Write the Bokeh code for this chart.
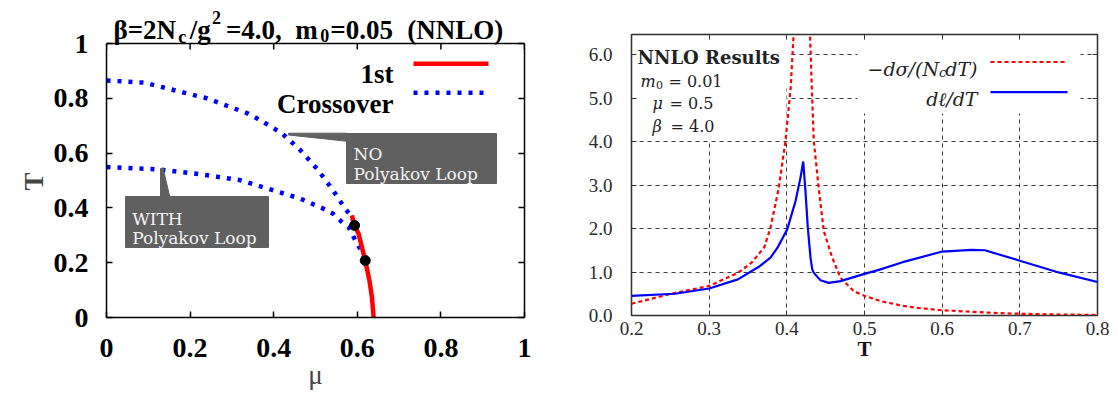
import math
from bokeh.plotting import figure
from bokeh.models import Label, FixedTicker, LinearAxis, Range1d, Title
from bokeh.layouts import row
from bokeh.embed import file_html
from bokeh.resources import INLINE

# ---------------- left panel data (phase diagram) ----------------
mu_no = [0.0, 0.091, 0.174, 0.240, 0.339, 0.368, 0.420, 0.4635, 0.503, 0.539, 0.571, 0.587, 0.5935]
T_no = [0.865, 0.857, 0.825, 0.800, 0.744, 0.720, 0.672, 0.611, 0.544, 0.471, 0.397, 0.367, 0.336]
mu_with = [0.0, 0.128, 0.224, 0.320, 0.400, 0.4635, 0.515, 0.542, 0.5634, 0.579, 0.5976, 0.611, 0.619]
T_with = [0.549, 0.540, 0.523, 0.501, 0.464, 0.434, 0.400, 0.379, 0.348, 0.330, 0.275, 0.239, 0.208]
mu_first = [0.587, 0.5935, 0.603, 0.611, 0.619, 0.629, 0.635, 0.639]
T_first = [0.373, 0.336, 0.306, 0.257, 0.208, 0.135, 0.074, 0.0]
mu_cp = [0.5935, 0.619]
T_cp = [0.336, 0.208]
left_ticks = [0, 0.2, 0.4, 0.6, 0.8, 1]
left_tick_labels = ["0", "0.2", "0.4", "0.6", "0.8", "1"]

# ---------------- right panel data (susceptibilities) ----------------
T_sigma = [0.20, 0.256, 0.30, 0.337, 0.355, 0.371, 0.379, 0.3897, 0.3983, 0.405, 0.4087,
           0.414, 0.419, 0.424, 0.4298, 0.4321, 0.4347, 0.4412, 0.4476, 0.4584, 0.4691,
           0.4862, 0.5004, 0.5206, 0.55, 0.571, 0.60, 0.661, 0.70, 0.75, 0.80]
dsigma = [0.27, 0.52, 0.68, 0.98, 1.22, 1.57, 2.02, 2.94, 4.02, 5.25, 6.45,
          9.0, 14.0, 9.0, 6.48, 5.25, 4.02, 2.90, 1.94, 1.33, 0.87,
          0.56, 0.45, 0.33, 0.22, 0.17, 0.12, 0.064, 0.040, 0.023, 0.013]
T_ell = [0.20, 0.256, 0.30, 0.337, 0.364, 0.379, 0.388, 0.4005, 0.4112, 0.4176, 0.4211,
         0.424, 0.427, 0.4305, 0.4327, 0.4347, 0.4433, 0.454, 0.4691, 0.499, 0.5206,
         0.548, 0.60, 0.638, 0.655, 0.70, 0.75, 0.80]
dell = [0.45, 0.50, 0.62, 0.83, 1.12, 1.33, 1.56, 1.98, 2.63, 3.17, 3.54,
        2.86, 2.02, 1.33, 1.06, 0.98, 0.81, 0.75, 0.79, 0.95, 1.06,
        1.22, 1.47, 1.51, 1.50, 1.26, 0.99, 0.77]
right_xticks = [0.2, 0.3, 0.4, 0.5, 0.6, 0.7, 0.8]
right_xtick_labels = ["0.2", "0.3", "0.4", "0.5", "0.6", "0.7", "0.8"]
right_yticks = [0, 1, 2, 3, 4, 5, 6]
right_ytick_labels = ["0.0", "1.0", "2.0", "3.0", "4.0", "5.0", "6.0"]

SERIF = "Liberation Serif"
CM = "DejaVu Serif"

# ---------------- layout constants (page pixels; Bokeh page has no margin) ----------------
W1, W2, H = 575, 543, 396
P2X = W1
# visible left box: x 106..524, y 43..317 ; frame extends to the top of the canvas (title inside)
f1 = (106, 524, 43, 317)
f2 = (P2X + 56, P2X + W2 - 21, 34, 315)
Y1MAX = f1[3] / (f1[3] - f1[2])
Y2MAX = 6.46


def lx(px):
    return (px - f1[0]) / (f1[1] - f1[0])


def ly(py):
    return (f1[3] - py) / (f1[3] - f1[2])


def rx(px):
    return 0.2 + (px - f2[0]) * 0.6 / (f2[1] - f2[0])


def ry(py):
    return (f2[3] - py) * Y2MAX / (f2[3] - f2[2])


def style_axis(ax, ticks, labels, show, font=SERIF, size="28px", style="bold",
               color="black", standoff=10, tick_in=6, width=1.5):
    ax.ticker = FixedTicker(ticks=ticks)
    ax.major_tick_in = tick_in
    ax.major_tick_out = 0
    ax.minor_tick_line_color = None
    ax.major_tick_line_color = color
    ax.major_tick_line_width = width
    ax.axis_line_color = color
    ax.axis_line_width = width
    if show:
        ax.major_label_overrides = {t: l for t, l in zip(ticks, labels)}
        ax.major_label_text_font = font
        ax.major_label_text_font_size = size
        ax.major_label_text_font_style = style
        ax.major_label_text_color = "black" if color == "black" else "#2a2a2a"
        ax.major_label_standoff = standoff
    else:
        ax.major_label_text_color = None
        ax.major_label_text_font_size = "1px"
        ax.major_label_standoff = 0


def lab(p, fx, fy, px, py, text, font=SERIF, size=27, style="normal", color="black",
        align="left", baseline="alphabetic", angle=0):
    p.add_layout(Label(x=fx(px), y=fy(py), text=text, text_font=font,
                       text_font_size=f"{size}px", text_font_style=style,
                       text_color=color, text_align=align, text_baseline=baseline,
                       angle=angle))


# ======================= LEFT FIGURE =======================
p1 = figure(width=W1, height=H, output_backend="svg", toolbar_location=None,
            x_range=Range1d(0, 1), y_range=Range1d(0, Y1MAX),
            min_border_left=f1[0], min_border_right=W1 - f1[1], min_border_top=0,
            min_border_bottom=H - f1[3])
p1.frame_align = False
p1.grid.visible = False
p1.outline_line_color = None
p1.background_fill_color = "white"
p1.border_fill_color = "white"

xax = p1.xaxis[0]
style_axis(xax, left_ticks, left_tick_labels, True, standoff=21)
xax.axis_label = "μ"
xax.axis_label_text_font = SERIF
xax.axis_label_text_font_size = "27px"
xax.axis_label_text_font_style = "normal"
xax.axis_label_standoff = 0

yax = p1.yaxis[0]
style_axis(yax, left_ticks, left_tick_labels, True, standoff=18)
yax.bounds = (0, 1)

# y-axis title, placed along the 0..1 box
tT = Title(text="T", align="left", offset=f1[3] - 190, vertical_align="top",
           text_font=SERIF, text_font_size="27px", text_font_style="bold", standoff=0)
p1.add_layout(tT, "left")

ax_right = LinearAxis(bounds=(0, 1))
p1.add_layout(ax_right, "right")
style_axis(ax_right, left_ticks, left_tick_labels, False)

# top edge of the box and its inward ticks
p1.line([left_ticks[0], left_ticks[-1]], [1, 1], line_color="black", line_width=1.5)
p1.segment(x0=left_ticks, y0=[1] * len(left_ticks), x1=left_ticks,
           y1=[1 - 6 / (f1[3] - f1[2])] * len(left_ticks), line_color="black", line_width=1.5)

p1.line(mu_no, T_no, line_color="#0000ff", line_width=4.5, line_dash="4 7", line_cap="butt")
p1.line(mu_with, T_with, line_color="#0000ff", line_width=4.5, line_dash="4 7", line_cap="butt")
p1.line(mu_first, T_first, line_color="#ff0000", line_width=4.5)
p1.scatter(mu_cp, T_cp, size=10, color="black")

# callouts
GRAY = "#606060"
p1.quad(left=[lx(346)], right=[lx(496)], top=[ly(133)], bottom=[ly(183)], color=GRAY)
p1.patch([lx(288), lx(346), lx(346), lx(288)], [ly(132.7), ly(132.7), ly(140.7), ly(134.5)], color=GRAY)
p1.quad(left=[lx(125)], right=[lx(268)], top=[ly(196)], bottom=[ly(247)], color=GRAY)
p1.patch([lx(160), lx(162.7), lx(169.3), lx(160)], [ly(168), ly(168), ly(196.5), ly(196.5)], color=GRAY)

WHITE = "#f4f4f4"
lab(p1, lx, ly, 353, 153.3, "NO", font=CM, size=17, color=WHITE)
lab(p1, lx, ly, 353, 173.3, "Polyakov Loop", font=CM, size=17, color=WHITE)
lab(p1, lx, ly, 131.7, 218.3, "WITH", font=CM, size=17, color=WHITE)
lab(p1, lx, ly, 131.7, 237.7, "Polyakov Loop", font=CM, size=17, color=WHITE)

# legend (label left, sample right)
lab(p1, lx, ly, 393, 73.3, "1st", size=27, style="bold", align="right")
lab(p1, lx, ly, 393, 103.3, "Crossover", size=27, style="bold", align="right")
p1.line([lx(413), lx(488)], [ly(63.3), ly(63.3)], line_color="#ff0000", line_width=4.5)
p1.line([lx(413), lx(488)], [ly(92.3), ly(92.3)], line_color="#0000ff", line_width=4.5,
        line_dash="4 7", line_cap="butt")

# title built from pieces (sub/superscripts)
TB = {' ': 0.25, '(': 0.333, ')': 0.333, ',': 0.25, '.': 0.25, '/': 0.278, '=': 0.57,
      'L': 0.667, 'N': 0.722, 'O': 0.778, 'c': 0.444, 'g': 0.5, 'm': 0.833, 'β': 0.56}
pieces = [("β=2N", 27, 0, 0), ("c", 18, 7, 0), ("/g", 27, 0, 0), ("2", 18, -12, 0),
          ("=4.0,", 27, 0, 0), ("m", 27, 0, 1), ("0", 18, 6, 0), ("=0.05", 27, 0, 0),
          ("(NNLO)", 27, 0, 1)]
nudge = {"c": -5.5, "/g": -3.0, "2": -4.0}


def twidth(s, size):
    return sum(TB.get(ch, 0.5) for ch in s) * size


natural = sum(twidth(t, s) + sp * 0.25 * 27 for t, s, d, sp in pieces)
k = 400.0 / natural
xpos = 113.0
for i, (t, s, d, sp) in enumerate(pieces):
    xpos += sp * 0.25 * 27 * k
    lab(p1, lx, ly, xpos + nudge.get(t, 0.0), 29 + d, t, size=s, style="bold")
    xpos += twidth(t, s) * k

# ======================= RIGHT FIGURE =======================
p2 = figure(width=W2, height=H, output_backend="svg", toolbar_location=None,
            x_range=Range1d(0.2, 0.8), y_range=Range1d(0, Y2MAX),
            min_border_left=f2[0] - P2X, min_border_right=P2X + W2 - f2[1],
            min_border_top=f2[2], min_border_bottom=H - f2[3])
p2.frame_align = False
p2.outline_line_color = "#222222"
p2.outline_line_width = 1.5
p2.background_fill_color = "white"
p2.border_fill_color = "white"
x2 = p2.xaxis[0]
style_axis(x2, right_xticks, right_xtick_labels, True, size="19px", style="normal",
           color="#333333", standoff=6, tick_in=5, width=1)
x2.axis_label = "T"
x2.axis_label_text_font = SERIF
x2.axis_label_text_font_size = "21px"
x2.axis_label_text_font_style = "bold"
x2.axis_label_text_color = "#111111"
x2.axis_label_standoff = -1
style_axis(p2.yaxis[0], right_yticks, right_ytick_labels, True, size="19px", style="normal",
           color="#333333", standoff=19, tick_in=5, width=1)
ax2_top = LinearAxis()
ax2_right = LinearAxis()
p2.add_layout(ax2_top, "above")
p2.add_layout(ax2_right, "right")
style_axis(ax2_top, right_xticks, right_xtick_labels, False, color="#333333", tick_in=5, width=1)
style_axis(ax2_right, right_yticks, right_ytick_labels, False, color="#333333", tick_in=5, width=1)
p2.xgrid.ticker = FixedTicker(ticks=right_xticks)
p2.ygrid.ticker = FixedTicker(ticks=right_yticks)
p2.grid.grid_line_color = "#3a3a3a"
p2.grid.grid_line_width = 1
p2.grid.grid_line_dash = "4 4"

# white key boxes (hide grid)
p2.quad(left=[rx(635), rx(635), rx(857)], right=[rx(790), rx(786), rx(1080)],
        top=[ry(39), ry(88), ry(39)], bottom=[ry(88), ry(139), ry(113)],
        color="white", line_color=None)

p2.line(T_sigma, dsigma, line_color="#ff0000", line_width=2.2, line_dash="4 3")
p2.line(T_ell, dell, line_color="#0000ff", line_width=2.2)

# legend
lab(p2, rx, ry, 977, 98, "dℓ/dT", font=CM, size=19, style="italic", color="#222222", align="right")
w_tail = 31.2
lab(p2, rx, ry, 977, 68, "dT)", font=CM, size=19, style="italic", color="#222222", align="right")
lab(p2, rx, ry, 977 - w_tail, 72, "c", font=CM, size=13, style="italic", color="#222222", align="right")
lab(p2, rx, ry, 977 - w_tail - 7.3, 68, "−dσ/(N", font=CM, size=19, style="italic",
    color="#222222", align="right")
p2.line([rx(990), rx(1067)], [ry(61.5), ry(61.5)], line_color="#ff0000", line_width=2.2, line_dash="4 3")
p2.line([rx(990), rx(1067)], [ry(91.7), ry(91.7)], line_color="#0000ff", line_width=2.2)

# NNLO text block
lab(p2, rx, ry, 637, 56.7, "NNLO Results", font=CM, size=18, style="bold", color="#222222")
lab(p2, rx, ry, 640, 80.7, "m", font=CM, size=16, style="italic", color="#222222")
lab(p2, rx, ry, 655.5, 84, "0", font=CM, size=11, color="#222222")
lab(p2, rx, ry, 722, 80.7, "= 0.01", font=CM, size=16, color="#222222", align="right")
lab(p2, rx, ry, 652, 103, "μ", font=CM, size=16, style="italic", color="#222222")
lab(p2, rx, ry, 713, 103, "= 0.5", font=CM, size=16, color="#222222", align="right")
lab(p2, rx, ry, 652, 126, "β", font=CM, size=16, style="italic", color="#222222")
lab(p2, rx, ry, 714, 126, "= 4.0", font=CM, size=16, color="#222222", align="right")

layout = row(p1, p2)
open("out.html", "w").write(file_html(layout, INLINE))
